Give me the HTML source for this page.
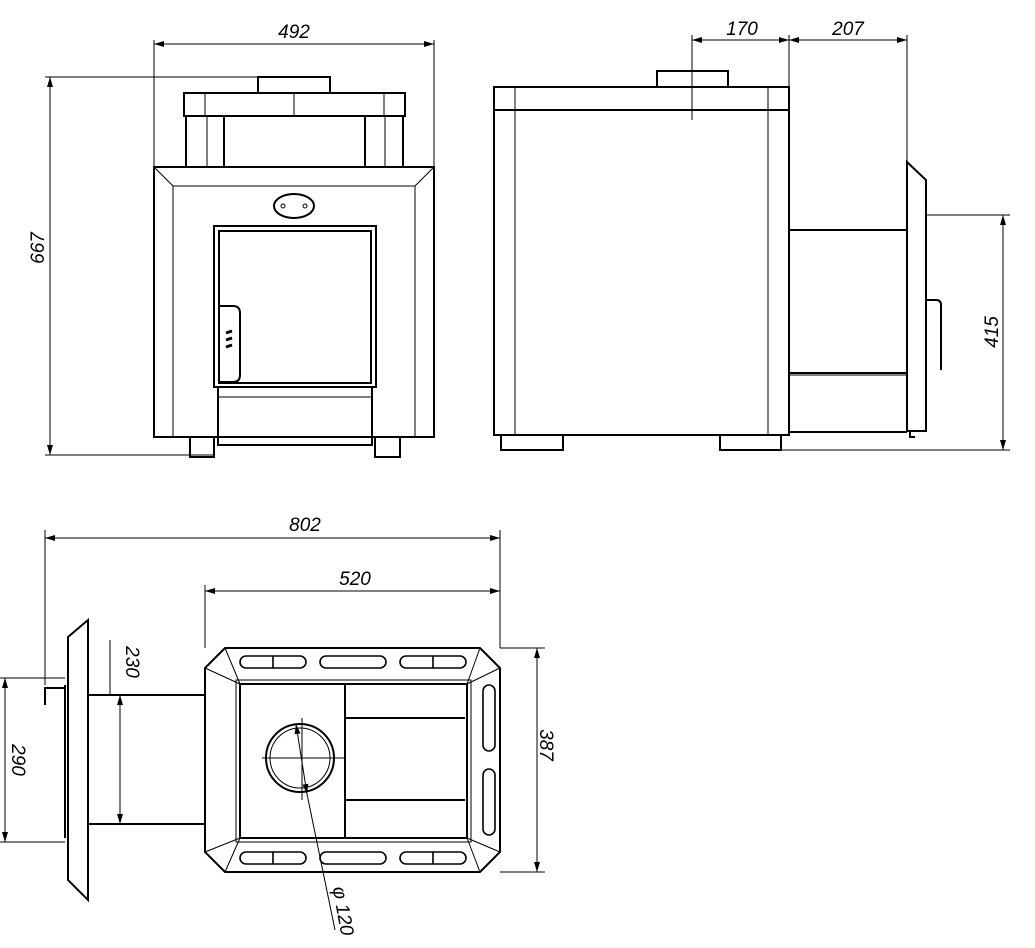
<!DOCTYPE html>
<html><head><meta charset="utf-8"><style>html,body{margin:0;padding:0;background:#fff}svg{display:block}</style></head>
<body>
<svg width="1035" height="948" viewBox="0 0 1035 948" xmlns="http://www.w3.org/2000/svg" font-family="Liberation Sans, sans-serif" font-style="italic" font-size="19" fill="none" stroke="#000">
<defs>
<marker id="e" viewBox="0 0 10 6" refX="10" refY="3" markerWidth="10" markerHeight="6" markerUnits="userSpaceOnUse" orient="auto"><path d="M0,0L10,3L0,6Z" fill="#000" stroke="none"/></marker>
<marker id="s" viewBox="0 0 10 6" refX="0" refY="3" markerWidth="10" markerHeight="6" markerUnits="userSpaceOnUse" orient="auto"><path d="M10,0L0,3L10,6Z" fill="#000" stroke="none"/></marker>
</defs>
<!-- FRONT VIEW -->
<g stroke-width="2">
<rect x="258" y="77" width="72" height="16"/>
<rect x="184" y="93" width="221" height="23"/>
<rect x="186" y="116" width="38" height="51"/>
<rect x="365" y="116" width="38" height="51"/>
<rect x="154" y="167" width="280" height="270"/>
<rect x="214" y="226" width="162" height="161"/>
<rect x="219" y="231" width="152" height="152"/>
<rect x="218" y="387" width="154" height="58"/>
<rect x="190" y="437" width="24" height="20"/>
<rect x="375" y="437" width="25" height="20"/>
<ellipse cx="294" cy="206" rx="20" ry="12"/>
<path d="M219,306h14q7,0 7,7v62q0,7-7,7h-14"/>
</g>
<g stroke-width="1">
<path d="M205,93v23M294,93v23M384,93v23M207,116v51M385,116v51M154,167L173,186H415L434,167M173,186V437M415,186V437M218,397H372"/>
<path d="M226,333l6,-2M226,340l6,-2M226,347l6,-2" stroke-width="3"/>
<circle cx="283" cy="206" r="2"/><circle cx="305" cy="206" r="2"/>
<path d="M154,40V167M434,40V167M45,77H258M45,455H215"/>
<g marker-start="url(#s)" marker-end="url(#e)">
<path d="M154,44H434"/><path d="M50,77V455"/>
</g>
</g>
<text x="294" y="38" fill="#000" stroke="none" text-anchor="middle">492</text>
<text transform="translate(44,248) rotate(-90)" fill="#000" stroke="none" text-anchor="middle">667</text>
<!-- SIDE VIEW -->
<g stroke-width="2">
<rect x="657" y="71" width="71" height="16"/>
<rect x="494" y="87" width="295" height="23"/>
<rect x="494" y="110" width="295" height="325"/>
<rect x="501" y="435" width="62" height="15"/>
<rect x="720" y="435" width="61" height="15"/>
<path d="M789,230H907M789,373H907M789,432H907"/>
<path d="M907,432V162L926,180V431H907"/>
<path d="M926,300h10q5,0 5,5v65"/>
<path d="M910,432v5h5"/>
</g>
<g stroke-width="1">
<path d="M515,87V435M768,87V435M789,375H907M692,35V120" />
<path d="M789,35V230M907,35V162M926,215H1010M780,450H1010"/>
<g marker-start="url(#s)" marker-end="url(#e)">
<path d="M692,40H789"/><path d="M789,40H907"/><path d="M1003,215V450"/>
</g>
</g>
<text x="742" y="35" fill="#000" stroke="none" text-anchor="middle">170</text>
<text x="848" y="35" fill="#000" stroke="none" text-anchor="middle">207</text>
<text transform="translate(998,332) rotate(-90)" fill="#000" stroke="none" text-anchor="middle">415</text>
<!-- TOP VIEW -->
<g stroke-width="2">
<path d="M225,648H480L500,668V852L480,872H225L205,852V668Z"/>
<rect x="240" y="684" width="227" height="154"/>
<path d="M88,620V900L68,880V637Z"/>
<path d="M88,695H205M88,824H205"/>
<path d="M45,705V688H65M65,685V838"/>
<circle cx="300" cy="758" r="34"/>
<path d="M345,684V838M345,718H465M345,800H465"/>
<g stroke-width="1.6">
<rect x="240" y="656" width="66" height="12" rx="6"/><rect x="320" y="656" width="66" height="12" rx="6"/><rect x="400" y="656" width="66" height="12" rx="6"/>
<rect x="240" y="852" width="66" height="12" rx="6"/><rect x="320" y="852" width="66" height="12" rx="6"/><rect x="400" y="852" width="66" height="12" rx="6"/>
<rect x="483" y="685" width="12" height="66" rx="6"/><rect x="483" y="769" width="12" height="66" rx="6"/>
<path d="M273,656v12M433,656v12M273,852v12M433,852v12"/>
</g>
</g>
<g stroke-width="1">
<circle cx="300" cy="758" r="30"/>
<path d="M225,648L240,684M480,648L467,684M225,872L240,838M480,872L467,838M205,668L240,684M205,852L240,838M500,668L467,684M500,852L467,838"/>
<path d="M236,680H471V842H236Z"/>
<path d="M262,758H345M302,718V800"/>
<path d="M45,530V685M500,530V648M205,585V648M500,648H545M500,872H545M0,678H65M0,842H65M110,640V695"/>
<g marker-start="url(#s)" marker-end="url(#e)">
<path d="M45,538H500"/><path d="M205,591H500"/><path d="M537,648V872"/><path d="M5,678V842"/><path d="M120,695V824"/><path d="M296,724L307,794"/>
</g>
<path d="M307,794L335,930"/>
</g>
<text x="305" y="531" fill="#000" stroke="none" text-anchor="middle">802</text>
<text x="355" y="585" fill="#000" stroke="none" text-anchor="middle">520</text>
<text transform="translate(540,745) rotate(90)" fill="#000" stroke="none" text-anchor="middle">387</text>
<text transform="translate(12,760) rotate(90)" fill="#000" stroke="none" text-anchor="middle">290</text>
<text transform="translate(126,662) rotate(90)" fill="#000" stroke="none" text-anchor="middle">230</text>
<text transform="translate(337,912) rotate(80)" fill="#000" stroke="none" text-anchor="middle">φ 120</text>
</svg>
</body></html>
